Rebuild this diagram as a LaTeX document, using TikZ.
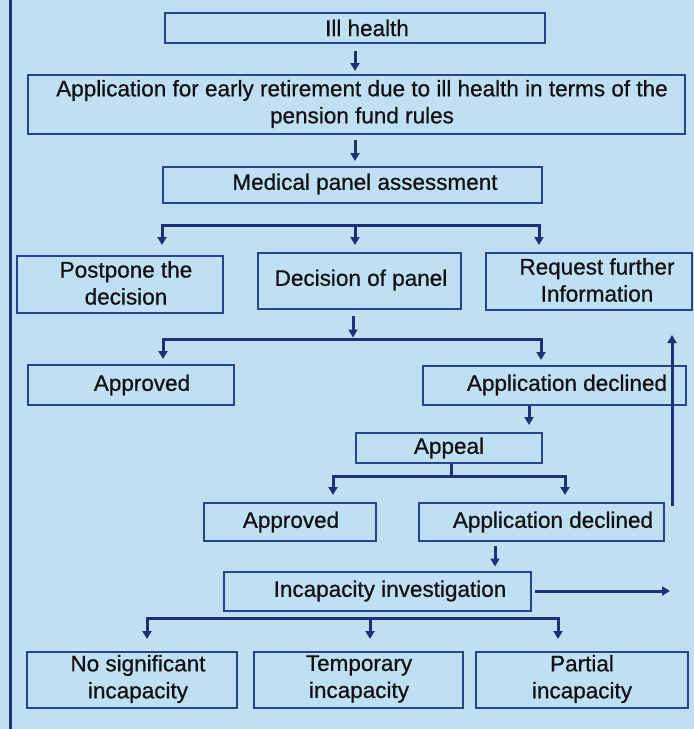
\documentclass[tikz,border=0pt]{standalone}
\usepackage{fontspec}
\setmainfont{Liberation Sans}
\newfontfamily\labelfont[FakeBold=0.6]{Liberation Sans}
\usetikzlibrary{arrows.meta,calc}
\definecolor{panelbg}{RGB}{190,224,242}
\definecolor{navy}{RGB}{26,50,118}
\definecolor{boxline}{RGB}{38,68,138}
\definecolor{ink}{RGB}{16,16,20}

\begin{document}
\begin{tikzpicture}[x=1pt,y=-1pt,
  box/.style={draw=boxline,line width=2pt,inner sep=0pt},
  lbl/.style={font=\labelfont\fontsize{22.5}{27}\selectfont,text=ink,align=center,inner sep=0pt},
  wire/.style={draw=navy,line width=3pt},
  arr/.style={draw=navy,line width=3pt,line join=miter,-{Triangle[length=8pt,width=9pt]}},
]
% panel background and left rule
\fill[panelbg] (0,0) rectangle (694,729);
\useasboundingbox (0,0) rectangle (694,729);
\draw[navy,line width=3pt] (10,0) -- (10,729);

% boxes
\node[box,minimum width=380pt,minimum height=30pt] (ill)    at (355,28)    {};
\node[box,minimum width=657pt,minimum height=59pt] (app)    at (356.5,104.5) {};
\node[box,minimum width=379pt,minimum height=36pt] (med)    at (352.5,185) {};
\node[box,minimum width=206pt,minimum height=57pt] (post)   at (120,284.5) {};
\node[box,minimum width=203pt,minimum height=56pt] (dec)    at (359.5,281) {};
\node[box,minimum width=206pt,minimum height=57pt] (req)    at (589,281.5) {};
\node[box,minimum width=206pt,minimum height=40pt] (appr1)  at (131,385)   {};
\node[box,minimum width=263pt,minimum height=39pt] (decl1)  at (554.5,385.5) {};
\node[box,minimum width=186pt,minimum height=30pt] (appeal) at (449,448)   {};
\node[box,minimum width=172pt,minimum height=38pt] (appr2)  at (290,522)   {};
\node[box,minimum width=245pt,minimum height=38pt] (decl2)  at (541.5,522) {};
\node[box,minimum width=307pt,minimum height=39pt] (incap)  at (377.5,591) {};
\node[box,minimum width=210pt,minimum height=56pt] (nosig)  at (132,680)   {};
\node[box,minimum width=209pt,minimum height=56pt] (temp)   at (358.5,680) {};
\node[box,minimum width=212pt,minimum height=56pt] (part)   at (582,680)   {};

% labels
\node[lbl] (ill-t)    at (367,28)    {Ill health};
\node[lbl] (app-t)    at (362,104)   {Application for early retirement due to ill health in terms of the\\pension fund rules};
\node[lbl] (med-t)    at (365,184)   {Medical panel assessment};
\node[lbl] (post-t)   at (126,283)   {Postpone the\\decision};
\node[lbl] (dec-t)    at (361,280)   {Decision of panel};
\node[lbl] (req-t)    at (597,280)   {Request further\\Information};
\node[lbl] (appr1-t)  at (142,385)   {Approved};
\node[lbl] (decl1-t)  at (567,385)   {Application declined};
\node[lbl] (appeal-t) at (449,448)   {Appeal};
\node[lbl] (appr2-t)  at (291,522)   {Approved};
\node[lbl] (decl2-t)  at (553,522)   {Application declined};
\node[lbl] (incap-t)  at (390,591)   {Incapacity investigation};
\node[lbl] (nosig-t)  at (138,679)   {No significant\\incapacity};
\node[lbl] (temp-t)   at (359,679)   {Temporary\\incapacity};
\node[lbl] (part-t)   at (582,679)   {Partial\\incapacity};

% junction points and arrow columns
\coordinate (j1l) at (162,225);
\coordinate (j1m) at (355,225);
\coordinate (j1r) at (539,225);
\coordinate (j2l) at (163,339);
\coordinate (j2m) at (353,339);
\coordinate (j2r) at (541,339);
\coordinate (j3l) at (333,476);
\coordinate (j3m) at (451,476);
\coordinate (j3r) at (565,476);
\coordinate (j4l) at (147,618);
\coordinate (j4m) at (370,618);
\coordinate (j4r) at (558,618);
\coordinate (c1) at (529,0);
\coordinate (c2) at (495,0);
\coordinate (outtip) at (670,591);
\coordinate (upfoot) at (672,506);
\coordinate (uptip) at (672,335);

% top chain
\draw[arr,shorten <=7pt,shorten >=3pt] (ill.south) -- (ill.south |- app.north);
\draw[arr,shorten <=5pt,shorten >=5pt] (ill.south |- app.south) -- (ill.south |- med.north);

% three-way split after the panel assessment
\draw[arr,shorten >=10pt] (j1m) -- (j1l) -- (j1l |- post.north);
\draw[arr,shorten >=7pt]  (j1m) -- (j1r) -- (j1r |- req.north);
\draw[arr,shorten >=7pt]  (j1m) -- (j1m |- dec.north);

% decision of panel
\draw[arr,shorten <=6pt,shorten >=1.5pt] (j2m |- dec.south) -- (j2m);
\draw[arr,shorten >=5pt] (j2m) -- (j2l) -- (j2l |- appr1.north);
\draw[arr,shorten >=5pt] (j2m) -- (j2r) -- (j2r |- decl1.north);

% appeal
\draw[arr,shorten >=7pt] (c1 |- decl1.south) -- (c1 |- appeal.north);
\draw[wire] (j3m |- appeal.south) -- (j3m);
\draw[arr,shorten >=7pt] (j3m) -- (j3l) -- (j3l |- appr2.north);
\draw[arr,shorten >=7pt] (j3m) -- (j3r) -- (j3r |- decl2.north);

% incapacity investigation
\draw[arr,shorten <=4pt,shorten >=4pt] (c2 |- decl2.south) -- (c2 |- incap.north);
\draw[arr,shorten <=3pt] (incap.east) -- (outtip);
\draw[arr] (upfoot) -- (uptip);
\draw[arr,shorten >=12pt] (j4m) -- (j4l) -- (j4l |- nosig.north);
\draw[arr,shorten >=12pt] (j4m) -- (j4r) -- (j4r |- part.north);
\draw[arr,shorten >=12pt] (j4m) -- (j4m |- temp.north);
\end{tikzpicture}
\end{document}
